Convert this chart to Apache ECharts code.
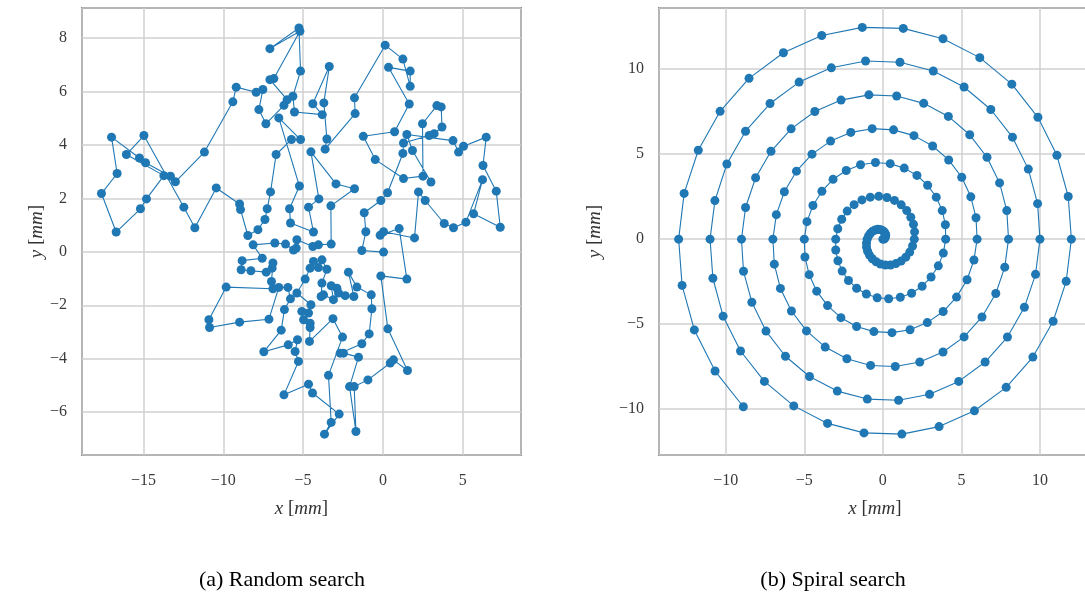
<!DOCTYPE html>
<html>
<head>
<meta charset="utf-8">
<script src="https://cdn.jsdelivr.net/npm/echarts@6/dist/echarts.min.js"></script>
<style>
html,body{margin:0;padding:0;background:#fff;}
#chart{width:1085px;height:597px;}
</style>
</head>
<body>
<div id="chart"></div>
<script>
// ---------- Data ----------
// (a) Random search: path of the probe, in visiting order [mm]
const walkX = [0.04,-1.32,-1.07,-1.17,-0.13,0.29,1.25,1.29,2.90,3.21,3.70,3.65,3.38,2.48,2.51,1.29,-0.48,-1.23,0.73,1.65,0.35,1.71,1.71,1.25,0.14,-1.78,-1.74,-3.62,-3.51,-3.70,-3.36,-4.39,-3.80,-5.54,-5.64,-5.16,-5.26,-7.08,-5.20,-6.83,-7.08,-6.00,-6.20,-7.33,-7.77,-7.52,-7.94,-9.19,-9.40,-11.18,-13.00,-13.31,-14.87,-15.25,-17.00,-16.65,-17.63,-16.71,-15.19,-14.81,-13.72,-16.07,-14.97,-12.47,-11.78,-10.44,-8.98,-8.92,-8.46,-7.83,-7.39,-7.25,-7.04,-6.69,-5.73,-5.16,-6.52,-5.23,-5.85,-5.79,-4.35,-4.66,-4.01,-4.51,-2.94,-1.78,-3.26,-3.24,-4.04,-4.39,-5.39,-5.43,-5.60,-6.10,-6.77,-8.13,-7.56,-8.82,-8.88,-8.27,-7.31,-6.94,-6.89,-6.98,-6.89,-9.82,-10.90,-10.86,-8.98,-7.14,-6.52,-5.95,-5.79,-6.17,-6.37,-7.46,-5.93,-5.35,-5.50,-5.29,-6.20,-4.66,-4.41,-2.74,-3.66,-3.24,-3.41,-2.53,-3.13,-4.60,-4.56,-4.56,-4.97,-5.08,-4.66,-4.51,-5.39,-4.87,-4.56,-4.35,-4.04,-3.82,-3.51,-3.82,-3.87,-3.72,-3.10,-3.24,-2.88,-2.78,-2.36,-1.82,-2.16,-1.63,-0.73,-0.69,-0.86,-1.32,-2.68,-2.47,-1.53,-2.09,-1.69,-1.80,-0.94,0.46,0.66,1.54,0.31,-0.13,1.50,1.02,-0.17,0.04,1.98,2.23,2.65,3.84,4.42,5.20,6.24,5.68,7.35,7.10,6.27,6.47,5.05,4.74,4.39,1.50,1.85,3.01];
const walkY = [-0.01,0.05,0.75,1.46,1.92,2.21,3.68,4.07,4.35,4.42,4.67,5.42,5.47,4.79,2.83,2.74,3.45,4.32,4.49,5.53,6.90,6.76,6.19,7.21,7.73,5.76,5.17,3.84,4.22,5.57,6.93,5.54,5.13,5.23,5.82,6.76,8.37,7.60,8.25,6.48,6.44,5.69,5.48,4.79,5.32,6.07,5.97,6.16,5.61,3.73,2.62,2.83,3.33,3.51,4.29,2.93,2.18,0.74,1.61,1.98,2.85,3.64,4.35,1.67,0.90,2.39,1.79,1.58,0.61,0.83,1.21,1.61,2.24,3.64,4.20,4.20,5.01,2.46,1.61,1.08,0.74,1.67,1.98,3.74,2.54,2.36,1.72,0.29,0.26,0.20,0.45,0.14,0.07,0.29,0.33,0.26,-0.24,-0.33,-0.67,-0.71,-0.76,-0.61,-0.42,-1.11,-1.38,-1.32,-2.54,-2.83,-2.63,-2.52,-1.33,-1.33,-1.76,-2.16,-2.93,-3.74,-3.48,-3.29,-3.73,-4.10,-5.35,-4.95,-5.28,-6.07,-6.82,-6.38,-4.62,-3.19,-2.50,-3.35,-2.83,-2.67,-2.54,-2.23,-2.29,-1.98,-1.54,-1.02,-0.61,-0.36,-0.59,-0.30,-0.65,-1.17,-1.67,-1.61,-1.79,-1.27,-1.36,-1.54,-1.64,-1.67,-0.76,-1.32,-1.61,-2.13,-3.07,-3.44,-3.79,-3.79,-3.94,-5.04,-6.72,-5.04,-4.79,-4.16,-4.04,-4.44,-2.88,-0.90,-1.02,0.87,0.62,0.75,0.52,2.24,1.92,1.06,0.90,1.11,2.70,1.42,0.92,2.27,3.23,4.29,3.95,3.73,4.16,4.39,3.79,2.61];

// (b) Spiral search: probe positions in visiting order [mm]
const spiralX = [
0,0.07,0.12,0.16,0.18,0.17,0.12,0.05,-0.06,-0.19,-0.33,-0.49,-0.65,-0.79,-0.91,-1.00,-1.04,-1.04,-0.97,-0.85,-0.67,-0.43,-0.15,0.16,0.49,0.83,1.16,1.46,1.71,1.89,
2.00,2.02,1.95,1.78,1.52,1.17,0.74,0.26,-0.26,-0.80,-1.33,-1.83,-2.27,-2.62,-2.87,-3.00,-3.00,-2.86,-2.59,-2.19,-1.67,-1.05,-0.36,0.37,1.11,1.83,2.50,3.07,3.53,3.85,
4.00,3.98,3.78,3.40,2.85,2.17,1.36,0.47,-0.47,-1.42,-2.33,-3.17,-3.88,-4.45,-4.83,-5.00,-4.96,-4.69,-4.21,-3.52,-2.67,-1.67,-0.57,0.58,1.73,2.83,3.84,4.69,5.36,5.80,
6.00,5.93,5.60,5.02,4.19,3.17,1.98,0.68,-0.68,-2.04,-3.33,-4.51,-5.50,-6.27,-6.78,-7.00,-6.91,-6.52,-5.82,-4.86,-3.67,-2.29,-0.78,0.79,2.35,3.83,5.17,6.31,7.19,7.76,
8.00,7.89,7.43,6.63,5.53,4.17,2.60,0.88,-0.89,-2.66,-4.33,-5.84,-7.12,-8.10,-8.74,-9.00,-8.87,-8.34,-7.44,-6.20,-4.67,-2.90,-0.99,1.00,2.97,4.83,6.51,7.93,9.01,9.72,
10.00,9.85,9.26,8.25,6.87,5.17,3.21,1.09,-1.10,-3.28,-5.33,-7.18,-8.74,-9.93,-10.69,-11.00,-10.82,-10.17,-9.06,-7.54,-5.67,-3.52,-1.20,1.21,3.58,5.83,7.85,9.55,10.84,11.67,
12.00,11.80,11.08,9.87,8.21,6.17,3.83,1.30,-1.31,-3.89,-6.33,-8.52,-10.36,-11.75,-12.65,-13.00,-12.78,-12.00,-10.68,-8.88];
const spiralY = [
0,0.01,0.05,0.12,0.20,0.29,0.38,0.46,0.53,0.57,0.58,0.54,0.47,0.35,0.19,0,-0.22,-0.46,-0.71,-0.94,-1.15,-1.33,-1.46,-1.52,-1.52,-1.44,-1.29,-1.06,-0.76,-0.40,
0,0.43,0.87,1.29,1.68,2.02,2.28,2.45,2.52,2.47,2.31,2.03,1.65,1.17,0.61,0,-0.64,-1.27,-1.88,-2.43,-2.89,-3.23,-3.45,-3.51,-3.42,-3.18,-2.77,-2.23,-1.57,-0.82,
0,0.85,1.68,2.47,3.17,3.75,4.18,4.44,4.51,4.38,4.04,3.52,2.82,1.98,1.03,0,-1.05,-2.09,-3.06,-3.91,-4.62,-5.14,-5.44,-5.50,-5.33,-4.91,-4.26,-3.41,-2.39,-1.23,
0,1.26,2.49,3.64,4.66,5.48,6.09,6.43,6.50,6.28,5.77,5.00,4.00,2.79,1.44,0,-1.47,-2.90,-4.23,-5.40,-6.35,-7.04,-7.43,-7.49,-7.23,-6.64,-5.75,-4.58,-3.20,-1.65,
0,1.68,3.31,4.82,6.14,7.22,7.99,8.42,8.49,8.18,7.51,6.49,5.17,3.61,1.86,0,-1.89,-3.71,-5.41,-6.89,-8.08,-8.94,-9.41,-9.48,-9.13,-8.37,-7.23,-5.76,-4.01,-2.07,
0,2.09,4.12,6.00,7.63,8.95,9.89,10.41,10.48,10.08,9.24,7.98,6.35,4.42,2.27,0,-2.30,-4.53,-6.58,-8.37,-9.81,-10.84,-11.40,-11.47,-11.03,-10.10,-8.72,-6.94,-4.83,-2.48,
0,2.51,4.93,7.17,9.12,10.68,11.79,12.40,12.46,11.98,10.97,9.46,7.52,5.23,2.69,0,-2.72,-5.34,-7.76,-9.86];

// Text
const captionA = '(a) Random search';
const captionB = '(b) Spiral search';
const xName = '{i|x} [{i|mm}]';
const yName = '{i|y} [{i|mm}]';
const tickStepA = {x: 5, y: 2};
const tickStepB = {x: 5, y: 5};

// ---------- Chart ----------
const SERIF = '"Liberation Serif", "DejaVu Serif", serif';
const BLUE = '#1f77b4';
const pairs = (xs, ys) => xs.map((x, i) => [x, ys[i]]);

function fmt(step) {
  return function (v) {
    const q = v / step;
    if (Math.abs(q - Math.round(q)) > 1e-6) return '';
    const n = Math.round(q) * step;
    return n < 0 ? '\u2212' + Math.abs(n) : String(n);
  };
}
const rich = { i: { fontStyle: 'italic', fontFamily: SERIF, fontSize: 19, color: '#333' } };

function valueAxis(gridIndex, min, max, step, isY, nameGap) {
  return {
    type: 'value', gridIndex, min, max,
    minInterval: step, maxInterval: step, splitNumber: 6,
    name: isY ? yName : xName,
    nameLocation: 'middle', nameGap,
    nameRotate: isY ? 90 : 0,
    nameTextStyle: { fontFamily: SERIF, fontSize: 19, color: '#333', rich },
    axisLine: { show: false }, axisTick: { show: false },
    axisLabel: { formatter: fmt(step), fontFamily: SERIF, fontSize: 16, color: '#3a3a3a',
                 margin: isY ? 15 : 18, showMinLabel: true, showMaxLabel: true },
    splitLine: { show: true, lineStyle: { color: '#d0d0d0', width: 1.5 } }
  };
}

const chart = echarts.init(document.getElementById('chart'), null, { renderer: 'canvas' });
chart.setOption({
  animation: false,
  backgroundColor: '#fff',
  grid: [
    { left: 82, top: 8, width: 439, height: 447, show: true, borderColor: '#333', borderWidth: 1.5,
      backgroundColor: 'transparent', containLabel: false, outerBoundsMode: 'none' },
    { left: 659, top: 8, right: -6, height: 447, show: true, borderColor: '#333', borderWidth: 1.5,
      backgroundColor: 'transparent', containLabel: false, outerBoundsMode: 'none' }
  ],
  xAxis: [
    valueAxis(0, -18.85, 8.65, tickStepA.x, false, 44),
    valueAxis(1, -14.25, 13.25, tickStepB.x, false, 44)
  ],
  yAxis: [
    valueAxis(0, -7.6, 9.12, tickStepA.y, true, 36),
    valueAxis(1, -12.7, 13.6, tickStepB.y, true, 55)
  ],
  graphic: [
    { type: 'text', x: 282, y: 580, style: { text: captionA, font: '22px ' + SERIF, fill: '#000', align: 'center', verticalAlign: 'middle' } },
    { type: 'text', x: 833, y: 580, style: { text: captionB, font: '22px ' + SERIF, fill: '#000', align: 'center', verticalAlign: 'middle' } }
  ],
  series: [
    { type: 'line', xAxisIndex: 0, yAxisIndex: 0, data: pairs(walkX, walkY),
      symbol: 'circle', symbolSize: 9, showSymbol: true, showAllSymbol: true,
      lineStyle: { color: BLUE, width: 1.1 }, itemStyle: { color: BLUE }, emphasis: { disabled: true } },
    { type: 'line', xAxisIndex: 1, yAxisIndex: 1, data: pairs(spiralX, spiralY),
      symbol: 'circle', symbolSize: 9, showSymbol: true, showAllSymbol: true,
      lineStyle: { color: BLUE, width: 1.1 }, itemStyle: { color: BLUE }, emphasis: { disabled: true } }
  ]
});
</script>
</body>
</html>
